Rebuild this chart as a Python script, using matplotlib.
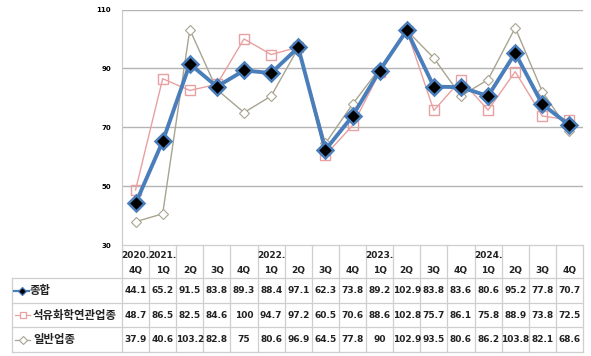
import matplotlib
matplotlib.use("Agg")
import matplotlib.pyplot as plt

plt.rcParams['font.family'] = ['Noto Sans CJK KR', 'DejaVu Sans']

years = ["2020.", "2021.", "", "", "", "2022.", "", "", "", "2023.", "", "", "", "2024.", "", "", ""]
quarters = ["4Q", "1Q", "2Q", "3Q", "4Q", "1Q", "2Q", "3Q", "4Q", "1Q", "2Q", "3Q", "4Q", "1Q", "2Q", "3Q", "4Q"]
series_names = ["종합", "석유화학연관업종", "일반업종"]
total = [44.1, 65.2, 91.5, 83.8, 89.3, 88.4, 97.1, 62.3, 73.8, 89.2, 102.9, 83.8, 83.6, 80.6, 95.2, 77.8, 70.7]
petro = [48.7, 86.5, 82.5, 84.6, 100, 94.7, 97.2, 60.5, 70.6, 88.6, 102.8, 75.7, 86.1, 75.8, 88.9, 73.8, 72.5]
general = [37.9, 40.6, 103.2, 82.8, 75, 80.6, 96.9, 64.5, 77.8, 90, 102.9, 93.5, 80.6, 86.2, 103.8, 82.1, 68.6]
yticks = [30, 50, 70, 90, 110]

W, H = 591, 356
fig = plt.figure(figsize=(W / 100, H / 100), dpi=100)

x0, x1 = 122, 583
ytop, ybot = 9.5, 245
ax = fig.add_axes([x0 / W, (H - ybot) / H, (x1 - x0) / W, (ybot - ytop) / H])
n = len(quarters)
xs = list(range(n))
ax.set_xlim(-0.5, n - 0.5)
ax.set_ylim(30, 110)
for v in yticks[1:]:
    ax.axhline(v, color="#b4b4b4", lw=1.0, zorder=0)
for s in ["top", "right", "bottom"]:
    ax.spines[s].set_visible(False)
ax.spines["left"].set_color("#c8c8c8")
ax.set_xticks([])
ax.set_yticks(yticks)
ax.set_yticklabels([str(v) for v in yticks], fontsize=5, fontweight="bold", family="DejaVu Sans")
ax.tick_params(axis="y", length=0, pad=8)

c_total = "#4a7ebb"
c_petro = "#e8a0a0"
c_gen = "#a8a490"

ax.plot(xs, general, color=c_gen, lw=1.0, marker="D", ms=5.5, mfc="white", mec=c_gen, mew=0.8, zorder=3)
ax.plot(xs, petro, color=c_petro, lw=1.0, marker="s", ms=7, mfc="none", mec=c_petro, mew=1.0, zorder=3)
ax.plot(xs, total, color=c_total, lw=2.8, marker="D", ms=8, mfc="black", mec=c_total, mew=1.8, zorder=4)

# table overlay
tab = fig.add_axes([0, 0, 1, 1])
tab.set_xlim(0, W)
tab.set_ylim(H, 0)
tab.axis("off")
tab.patch.set_alpha(0)

grid_c = "#cfcfcf"
cw = (x1 - x0) / n
row_lines = [278.3, 303.3, 327.3, 351.7]
tab.plot([x0, x1], [245, 245], color=grid_c, lw=0.9)
for y in row_lines:
    tab.plot([12, x1], [y, y], color=grid_c, lw=0.9)
tab.plot([12, 12], [row_lines[0], row_lines[-1]], color=grid_c, lw=0.9)
for k in range(n + 1):
    tab.plot([x0 + k * cw, x0 + k * cw], [245, row_lines[-1]], color=grid_c, lw=0.9)

num_font = dict(fontsize=6.5, fontweight="bold", color="#222222", family="DejaVu Sans")
for i in range(n):
    cx = x0 + (i + 0.5) * cw
    if years[i]:
        tab.text(cx, 255, years[i], ha="center", va="center", **num_font)
    tab.text(cx, 270, quarters[i], ha="center", va="center", **num_font)

def fmt(v):
    return str(int(v)) if float(v).is_integer() else f"{v:.1f}"

row_centers = [(row_lines[k] + row_lines[k + 1]) / 2 for k in range(3)]
all_series = [total, petro, general]
for r, vals in enumerate(all_series):
    for i, v in enumerate(vals):
        cx = x0 + (i + 0.5) * cw
        tab.text(cx, row_centers[r], fmt(v), ha="center", va="center", **num_font)

# legend keys in row labels
yc = row_centers[0]
tab.plot([14, 29], [yc, yc], color=c_total, lw=1.6)
tab.plot([21.5], [yc], marker="D", ms=4.5, mfc="black", mec=c_total, mew=0.9)
yc = row_centers[1]
tab.plot([15, 30], [yc, yc], color=c_petro, lw=0.9)
tab.plot([22.5], [yc], marker="s", ms=5, mfc="white", mec=c_petro, mew=0.9)
yc = row_centers[2]
tab.plot([15, 30], [yc, yc], color=c_gen, lw=0.9)
tab.plot([22.5], [yc], marker="D", ms=4, mfc="white", mec=c_gen, mew=0.8)

label_x = [30, 33, 33]
for r, name in enumerate(series_names):
    tab.text(label_x[r], row_centers[r], name, ha="left", va="center", fontsize=8.2,
             fontweight="bold", color="#222222")

fig.savefig("out.png", dpi=100)
